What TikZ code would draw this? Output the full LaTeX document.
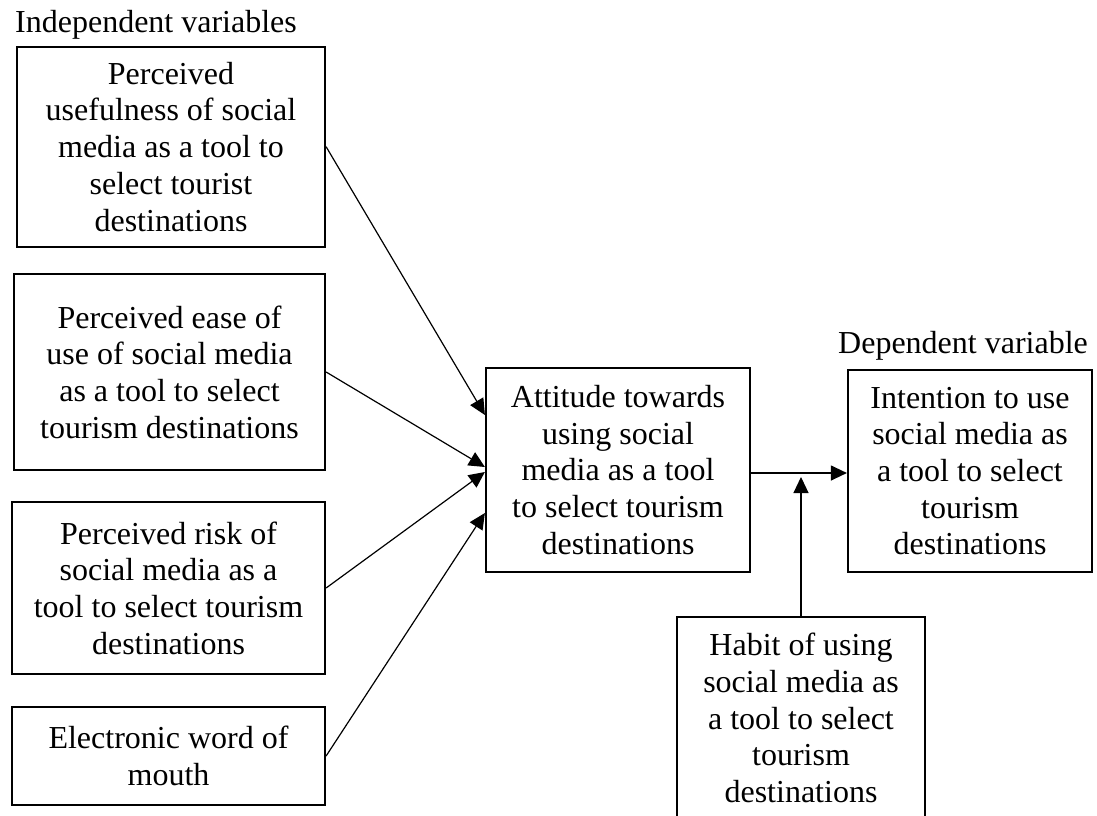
\documentclass[tikz,border=0pt]{standalone}
\usepackage{fontspec}
\setmainfont{Liberation Serif}
\usetikzlibrary{arrows.meta,calc}
\begin{document}
\begin{tikzpicture}[x=1pt,y=-1pt,
  every node/.style={font=\fontsize{32pt}{36.7pt}\selectfont},
  varbox/.style={draw,line width=2.2pt,align=center,inner sep=0pt},
  conn/.style={line width=1.2pt,-{Triangle[length=16pt,width=15pt]}},
  lbl/.style={inner sep=0pt,anchor=base west}]
\useasboundingbox (0,0) rectangle (1097,816);
\node[varbox,minimum width=308pt,minimum height=200pt] (b1) at (171,146.7)
  {Perceived\\usefulness of social\\media as a tool to\\select tourist\\destinations};
\node[varbox,minimum width=311pt,minimum height=196pt] (b2) at (169.5,372)
  {Perceived ease of\\use of social media\\as a tool to select\\tourism destinations};
\node[varbox,minimum width=313pt,minimum height=172pt] (b3) at (168.5,588)
  {Perceived risk of\\social media as a\\tool to select tourism\\destinations};
\node[varbox,minimum width=313pt,minimum height=98pt] (b4) at (168.5,756)
  {Electronic word of\\mouth};
\node[varbox,minimum width=264pt,minimum height=204pt] (att) at (618,470)
  {Attitude towards\\using social\\media as a tool\\to select tourism\\destinations};
\node[varbox,minimum width=244pt,minimum height=202pt] (int) at (970,471)
  {Intention to use\\social media as\\a tool to select\\tourism\\destinations};
\node[varbox,minimum width=248pt,minimum height=202pt] (hab) at (801,718)
  {Habit of using\\social media as\\a tool to select\\tourism\\destinations};
\node[lbl] (lind) at (15,33) {Independent variables};
\node[lbl] (ldep) at (838,353) {Dependent variable};
\coordinate (t1) at ([yshift=55pt]att.west);
\coordinate (t2) at ([yshift=3pt]att.west);
\coordinate (t3) at ([yshift=-2pt]att.west);
\coordinate (t4) at ([yshift=-43pt]att.west);
\coordinate (j) at ($(hab.north |- att.east)+(0,-7pt)$);
\draw[conn] (b1.east) -- (t1);
\draw[conn] (b2.east) -- (t2);
\draw[conn] (b3.east) -- (t3);
\draw[conn] (b4.east) -- (t4);
\draw[conn] ($(att.east)+(0,-3pt)$) -- ($(att.east -| int.west)+(0,-3pt)$);
\draw[conn] (hab.north) -- (j);
\end{tikzpicture}
\end{document}
